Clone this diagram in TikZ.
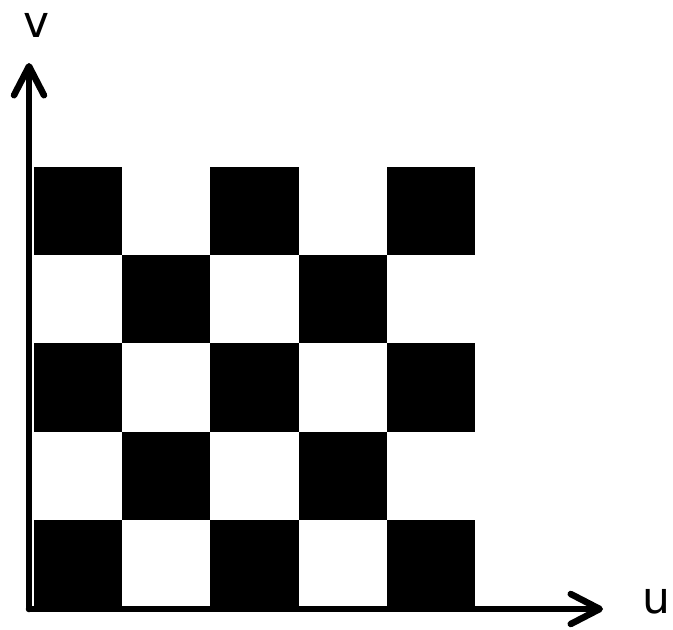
\documentclass[tikz,border=0pt]{standalone}
\usepackage{fontspec}
\setmainfont{DejaVu Sans}
\usetikzlibrary{arrows.meta}
\begin{document}
\begin{tikzpicture}[x=1pt,y=-1pt,
  axis/.style={line width=6.5pt,line cap=round,
    -{Straight Barb[round,length=29pt,width=30pt]}},
  axislabel/.style={inner sep=0pt,font=\fontsize{44}{44}\selectfont},
  cell/.style={fill=black}]
  \useasboundingbox (0,0) rectangle (673,630);
  % checkerboard: 5x5 cells of 88.2 units, black where row+col is even
  \foreach \r in {0,...,4}{
    \foreach \c in {0,...,4}{
      \pgfmathtruncatemacro{\parity}{mod(\r+\c,2)}
      \ifnum\parity=0
        \fill[cell] ({34+88.2*\c},{167+88.2*\r}) rectangle ++(88.2,88.2);
      \fi
    }
  }
  % axes
  \coordinate (o) at (29,609);
  \coordinate (vtip) at (29,63);
  \coordinate (utip) at (603,609);
  \draw[axis] (o) -- (vtip);
  \draw[axis] (o) -- (utip);
  \node[axislabel,anchor=base] (vlab) at (36.5,37) {v};
  \node[axislabel,anchor=base] (ulab) at (656,613) {u};
\end{tikzpicture}
\end{document}
